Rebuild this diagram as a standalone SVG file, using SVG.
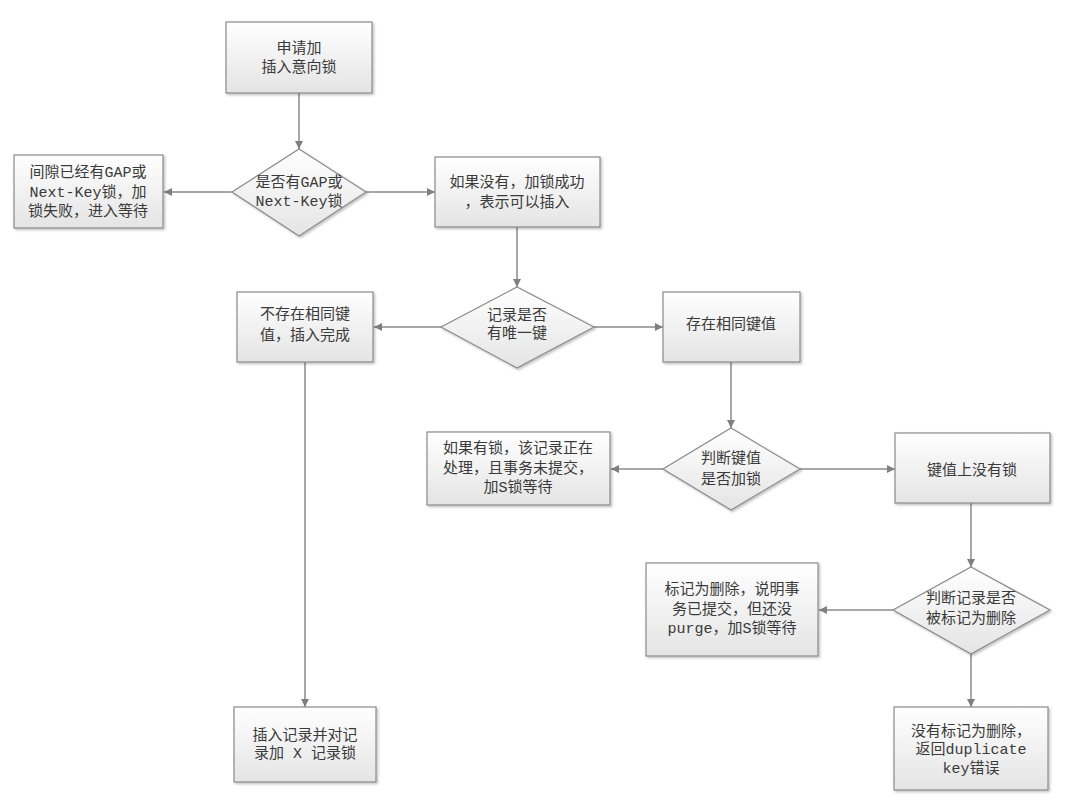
<svg xmlns="http://www.w3.org/2000/svg" width="1080" height="807" viewBox="0 0 1080 807">
<defs>
<linearGradient id="g" x1="0" y1="0" x2="0" y2="1">
<stop offset="0" stop-color="#ffffff"/>
<stop offset="1" stop-color="#e4e4e4"/>
</linearGradient>
<filter id="sh" x="-10%" y="-10%" width="130%" height="130%">
<feDropShadow dx="1.5" dy="1.5" stdDeviation="1" flood-color="#000" flood-opacity="0.25"/>
</filter>
<marker id="ah" viewBox="0 0 10 10" refX="10" refY="5" markerWidth="8" markerHeight="8" markerUnits="userSpaceOnUse" orient="auto">
<path d="M0,0 L10,5 L0,10 z" fill="#7f7f7f"/>
</marker>
</defs>
<style>
rect.n{fill:url(#g);stroke:#8a8a8a;stroke-width:1.2;filter:url(#sh)}
polygon.d{fill:url(#g);stroke:#8a8a8a;stroke-width:1.2;filter:url(#sh)}
text{font-family:"Liberation Mono","Noto Sans CJK SC",monospace;font-size:15px;fill:#3a3a3a;text-anchor:middle}
.c line{stroke:#8a8a8a;stroke-width:1.5;marker-end:url(#ah)}
</style>
<rect width="1080" height="807" fill="#fff"/>
<g class="c" id="connectors">
<line x1="299" y1="93" x2="299" y2="149"/>
<line x1="232" y1="192" x2="164" y2="192"/>
<line x1="366" y1="192" x2="435" y2="192"/>
<line x1="517" y1="227" x2="517" y2="287"/>
<line x1="441" y1="327" x2="374" y2="327"/>
<line x1="594" y1="327" x2="663" y2="327"/>
<line x1="305" y1="362" x2="305" y2="707"/>
<line x1="731" y1="362" x2="731" y2="428"/>
<line x1="663" y1="469" x2="611" y2="469"/>
<line x1="800" y1="469" x2="895" y2="469"/>
<line x1="971" y1="503" x2="971" y2="567"/>
<line x1="893" y1="610" x2="819" y2="610"/>
<line x1="971" y1="654" x2="971" y2="707"/>
</g>
<g id="n1"><rect class="n" x="226" y="22" width="146" height="71"/><text x="299" y="53">申请加</text><text x="299" y="72">插入意向锁</text></g>
<g id="d1"><polygon class="d" points="299,149 366,192 299,236 232,192"/><text x="299" y="187">是否有GAP或</text><text x="299" y="206">Next-Key锁</text></g>
<g id="n2"><rect class="n" x="14" y="155" width="149" height="73"/><text x="88" y="177">间隙已经有GAP或</text><text x="88" y="197">Next-Key锁，加</text><text x="88" y="216">锁失败，进入等待</text></g>
<g id="n3"><rect class="n" x="435" y="157" width="165" height="70"/><text x="517" y="187">如果没有，加锁成功</text><text x="517" y="207">，表示可以插入</text></g>
<g id="d2"><polygon class="d" points="517,287 594,327 517,368 441,327"/><text x="517" y="320">记录是否</text><text x="517" y="338">有唯一键</text></g>
<g id="n4"><rect class="n" x="663" y="292" width="137" height="70"/><text x="731" y="329">存在相同键值</text></g>
<g id="n5"><rect class="n" x="237" y="292" width="136" height="70"/><text x="305" y="319">不存在相同键</text><text x="305" y="340">值，插入完成</text></g>
<g id="n6"><rect class="n" x="234" y="707" width="142" height="75"/><text x="305" y="740">插入记录并对记</text><text x="305" y="758">录加 X 记录锁</text></g>
<g id="d3"><polygon class="d" points="731,428 800,469 731,510 663,469"/><text x="731" y="463">判断键值</text><text x="731" y="484">是否加锁</text></g>
<g id="n7"><rect class="n" x="427" y="432" width="183" height="73"/><text x="518" y="453">如果有锁，该记录正在</text><text x="518" y="473">处理，且事务未提交，</text><text x="518" y="492">加S锁等待</text></g>
<g id="n8"><rect class="n" x="895" y="433" width="155" height="70"/><text x="972" y="475">键值上没有锁</text></g>
<g id="d4"><polygon class="d" points="971,567 1050,610 971,654 893,610"/><text x="971" y="603">判断记录是否</text><text x="971" y="623">被标记为删除</text></g>
<g id="n9"><rect class="n" x="646" y="563" width="172" height="93"/><text x="732" y="594">标记为删除，说明事</text><text x="732" y="614">务已提交，但还没</text><text x="732" y="633">purge，加S锁等待</text></g>
<g id="n10"><rect class="n" x="894" y="707" width="154" height="83"/><text x="971" y="736">没有标记为删除，</text><text x="971" y="754">返回duplicate</text><text x="971" y="773">key错误</text></g>
</svg>
